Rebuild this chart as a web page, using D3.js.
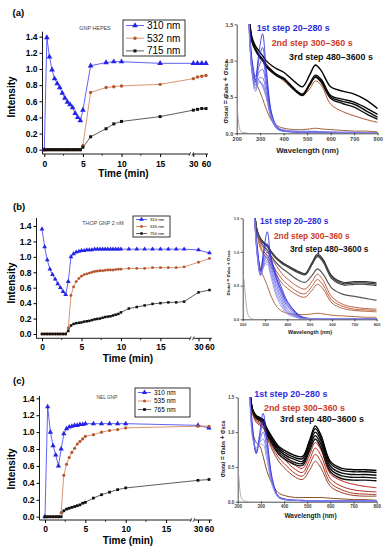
<!DOCTYPE html>
<html>
<head>
<meta charset="utf-8">
<script src="https://cdn.jsdelivr.net/npm/d3@7"></script>
<style>
  html, body { margin: 0; padding: 0; background: #fff; }
  svg { display: block; font-family: Arial, "Liberation Sans", sans-serif; }
</style>
</head>
<body>
<svg id="fig" width="389" height="550"></svg>
<script>
/* ── Kinetics data (left column) ─────────────────────────────────────────── */
const timeA = [0, 0.33, 0.67, 1, 1.33, 1.67, 2, 2.33, 2.67, 3, 3.33, 3.67, 4, 4.33, 4.67, 5, 6, 8, 9, 10, 15, 30, 40, 50, 60];
const a310 = [0, 1.39, 1.15, 0.99, 0.88, 0.82, 0.77, 0.70, 0.64, 0.59, 0.56, 0.52, 0.45, 0.40, 0.36, 0.49, 1.04, 1.08, 1.09, 1.09, 1.07, 1.07, 1.07, 1.07, 1.07];
const a532 = [0, 0, 0, 0, 0, 0, 0, 0, 0, 0, 0, 0, 0, 0, 0, 0.05, 0.71, 0.77, 0.78, 0.79, 0.81, 0.88, 0.90, 0.91, 0.92];
const a715 = [0, 0, 0, 0, 0, 0, 0, 0, 0, 0, 0, 0, 0, 0, 0, 0.03, 0.16, 0.26, 0.32, 0.35, 0.41, 0.49, 0.50, 0.51, 0.51];
const legendA = ["310 nm", "532 nm", "715 nm"];

const timeB = [0, 0.33, 0.67, 1, 1.33, 1.67, 2, 2.33, 2.67, 3, 3.33, 3.67, 4, 4.33, 4.67, 5, 5.33, 5.67, 6, 6.33,
  6.67, 7, 7.33, 7.67, 8, 8.33, 8.67, 9, 9.33, 9.67, 10, 11, 12, 13, 14, 15, 16, 17, 18, 30, 60];
const b310 = [1.36, 1.13, 0.96, 0.84, 0.77, 0.71, 0.65, 0.60, 0.55, 0.51, 0.68, 1.00, 1.04, 1.06, 1.07, 1.08, 1.08, 1.09, 1.09, 1.09,
  1.10, 1.10, 1.10, 1.10, 1.10, 1.10, 1.10, 1.10, 1.10, 1.10, 1.10, 1.10, 1.10, 1.10, 1.10, 1.10, 1.10, 1.10, 1.10, 1.09, 1.05];
const b535 = [0, 0, 0, 0, 0, 0, 0, 0, 0, 0, 0.08, 0.50, 0.61, 0.68, 0.72, 0.75, 0.77, 0.78, 0.79, 0.80,
  0.81, 0.815, 0.82, 0.82, 0.825, 0.83, 0.83, 0.83, 0.835, 0.84, 0.84, 0.85, 0.85, 0.85, 0.86, 0.86, 0.86, 0.86, 0.87, 0.93, 0.98];
const b750 = [0, 0, 0, 0, 0, 0, 0, 0, 0, 0, 0.04, 0.11, 0.13, 0.14, 0.145, 0.15, 0.16, 0.165, 0.17, 0.18,
  0.19, 0.195, 0.20, 0.21, 0.22, 0.225, 0.23, 0.24, 0.25, 0.26, 0.28, 0.33, 0.35, 0.37, 0.39, 0.40, 0.41, 0.41, 0.42, 0.54, 0.57];
const legendB = ["310 nm", "535 nm", "750 nm"];

const timeC = [0, 0.33, 0.67, 1, 1.33, 1.67, 2, 2.33, 2.67, 3, 3.33, 3.67, 4, 4.33, 4.67, 5, 6, 7, 8, 9, 10, 30, 60];
const c310 = [0, 1.30, 1.00, 0.84, 0.73, 0.60, 0.80, 0.98, 1.04, 1.06, 1.07, 1.08, 1.08, 1.09, 1.09, 1.10, 1.10, 1.10, 1.10, 1.10, 1.10, 1.08, 1.05];
const c535 = [0, 0, 0, 0, 0, 0, 0.05, 0.49, 0.62, 0.70, 0.76, 0.81, 0.86, 0.89, 0.92, 0.95, 0.97, 1.00, 1.02, 1.03, 1.05, 1.07, 1.07];
const c765 = [0, 0, 0, 0, 0, 0, 0, 0.07, 0.09, 0.10, 0.11, 0.12, 0.13, 0.14, 0.16, 0.17, 0.22, 0.26, 0.29, 0.32, 0.34, 0.43, 0.44];
const legendC = ["310 nm", "535 nm", "765 nm"];

const kinYTicks = [0, 0.2, 0.4, 0.6, 0.8, 1.0, 1.2, 1.4];
const kinXTicks = [0, 5, 10, 15, 30, 60];
const kinXMinor = [2.5, 7.5, 12.5];

/* ── Spectra data (right column) ─────────────────────────────────────────── */
const WL = [250, 265, 280, 295, 310, 325, 350, 375, 400, 450, 480, 510, 535, 560, 600, 650, 700, 750, 800];
const greyWL = [200, 205, 210, 215, 220, 230, 250];

const greyA = [0.46, 0.25, 0.10, 0.04, 0.02, 0.01, 0];
const specA_blue = [
  [1.70, 1.02, 0.78, 1.12, 1.37, 0.92, 0.26, 0.08, 0.04, 0.02, 0.02, 0.02, 0.02, 0.02, 0.01, 0.01, 0.01, 0.01, 0.01],
  [1.70, 0.98, 0.74, 1.02, 1.18, 0.84, 0.24, 0.07, 0.04, 0.02, 0.02, 0.02, 0.02, 0.02, 0.01, 0.01, 0.01, 0.01, 0.01],
  [1.70, 0.94, 0.70, 0.92, 1.02, 0.74, 0.22, 0.07, 0.03, 0.02, 0.02, 0.02, 0.02, 0.02, 0.01, 0.01, 0.01, 0.01, 0.01],
  [1.70, 0.90, 0.66, 0.84, 0.88, 0.66, 0.20, 0.06, 0.03, 0.02, 0.02, 0.02, 0.02, 0.01, 0.01, 0.01, 0.01, 0.01, 0.01],
  [1.70, 0.86, 0.62, 0.76, 0.76, 0.58, 0.18, 0.06, 0.03, 0.02, 0.02, 0.02, 0.02, 0.01, 0.01, 0.01, 0.01, 0.01, 0.01],
  [1.70, 0.84, 0.58, 0.70, 0.68, 0.52, 0.17, 0.05, 0.03, 0.02, 0.01, 0.01, 0.01, 0.01, 0.01, 0.01, 0.01, 0.01, 0.01],
  [1.70, 0.86, 0.70, 0.72, 0.64, 0.50, 0.19, 0.07, 0.04, 0.03, 0.02, 0.02, 0.02, 0.02, 0.02, 0.01, 0.01, 0.01, 0.01],
  [1.70, 0.92, 0.78, 0.74, 0.66, 0.52, 0.21, 0.08, 0.05, 0.03, 0.03, 0.03, 0.03, 0.02, 0.02, 0.02, 0.02, 0.01, 0.01],
];
const specA_brown = [
  [1.70, 1.32, 1.15, 1.08, 1.03, 0.96, 0.87, 0.79, 0.72, 0.58, 0.52, 0.61, 0.72, 0.66, 0.40, 0.30, 0.24, 0.19, 0.15],
  [1.70, 0.95, 0.72, 0.60, 0.48, 0.34, 0.17, 0.10, 0.07, 0.05, 0.05, 0.06, 0.07, 0.06, 0.05, 0.04, 0.03, 0.03, 0.02],
];
const specA_black = [
  [1.70, 1.32, 1.20, 1.13, 1.07, 1.00, 0.93, 0.88, 0.84, 0.70, 0.64, 0.80, 0.94, 0.86, 0.64, 0.58, 0.54, 0.46, 0.34],
  [1.70, 1.28, 1.16, 1.08, 1.02, 0.94, 0.86, 0.80, 0.76, 0.60, 0.54, 0.68, 0.80, 0.74, 0.52, 0.47, 0.43, 0.35, 0.26],
  [1.70, 1.27, 1.15, 1.07, 1.01, 0.93, 0.85, 0.79, 0.75, 0.59, 0.53, 0.67, 0.78, 0.72, 0.50, 0.44, 0.40, 0.31, 0.22],
  [1.70, 1.26, 1.14, 1.06, 1.00, 0.92, 0.84, 0.78, 0.74, 0.58, 0.52, 0.66, 0.77, 0.70, 0.48, 0.41, 0.36, 0.27, 0.19],
];

const greyB = [0.66, 0.60, 0.42, 0.24, 0.12, 0.03, 0];
const specB_blue = [
  [1.70, 1.10, 0.72, 1.05, 1.30, 0.95, 0.62, 0.42, 0.25, 0.06, 0.02, 0.01, 0.01, 0.01, 0.01, 0.01, 0.01, 0.01, 0.01],
  [1.70, 1.06, 0.72, 0.98, 1.12, 0.92, 0.68, 0.46, 0.27, 0.07, 0.02, 0.01, 0.01, 0.01, 0.01, 0.01, 0.01, 0.01, 0.01],
  [1.70, 1.02, 0.70, 0.92, 1.00, 0.88, 0.62, 0.40, 0.22, 0.05, 0.02, 0.01, 0.01, 0.01, 0.01, 0.01, 0.01, 0.01, 0.01],
  [1.70, 1.00, 0.68, 0.88, 0.95, 0.85, 0.58, 0.36, 0.19, 0.04, 0.01, 0.01, 0.01, 0.01, 0.01, 0.01, 0.01, 0.01, 0.01],
  [1.70, 0.98, 0.66, 0.85, 0.92, 0.80, 0.52, 0.31, 0.15, 0.03, 0.01, 0.01, 0.01, 0.01, 0.01, 0.01, 0.01, 0.01, 0.01],
  [1.70, 0.96, 0.66, 0.82, 0.88, 0.75, 0.46, 0.26, 0.12, 0.03, 0.01, 0.01, 0.01, 0.01, 0.01, 0.01, 0.01, 0.01, 0.01],
  [1.70, 0.95, 0.65, 0.80, 0.85, 0.70, 0.40, 0.22, 0.10, 0.02, 0.01, 0.01, 0.01, 0.01, 0.01, 0.01, 0.01, 0.01, 0.01],
  [1.70, 0.95, 0.65, 0.78, 0.82, 0.65, 0.35, 0.18, 0.08, 0.02, 0.01, 0.01, 0.01, 0.01, 0.01, 0.01, 0.01, 0.01, 0.01],
];
const specB_brown = [
  [1.70, 1.30, 1.12, 1.05, 1.00, 0.92, 0.80, 0.68, 0.60, 0.48, 0.45, 0.56, 0.67, 0.58, 0.33, 0.22, 0.18, 0.16, 0.15],
  [1.70, 1.28, 1.08, 1.00, 0.95, 0.86, 0.72, 0.60, 0.52, 0.40, 0.38, 0.49, 0.59, 0.51, 0.28, 0.19, 0.15, 0.14, 0.13],
  [1.70, 1.26, 1.05, 0.96, 0.90, 0.80, 0.66, 0.54, 0.46, 0.35, 0.33, 0.43, 0.52, 0.45, 0.24, 0.16, 0.13, 0.12, 0.11],
  [1.70, 1.00, 0.75, 0.62, 0.50, 0.36, 0.20, 0.12, 0.09, 0.07, 0.07, 0.08, 0.09, 0.08, 0.06, 0.05, 0.04, 0.03, 0.03],
];
const specB_black = [
  [1.70, 1.32, 1.20, 1.14, 1.10, 1.02, 0.92, 0.85, 0.80, 0.71, 0.68, 0.84, 0.97, 0.89, 0.64, 0.55, 0.56, 0.56, 0.54],
  [1.70, 1.31, 1.19, 1.13, 1.09, 1.01, 0.91, 0.84, 0.79, 0.70, 0.67, 0.82, 0.95, 0.87, 0.62, 0.53, 0.54, 0.54, 0.52],
  [1.70, 1.30, 1.18, 1.12, 1.08, 1.00, 0.90, 0.83, 0.78, 0.69, 0.66, 0.81, 0.93, 0.85, 0.60, 0.51, 0.52, 0.52, 0.50],
  [1.70, 1.30, 1.16, 1.08, 1.03, 0.95, 0.84, 0.76, 0.70, 0.58, 0.55, 0.65, 0.75, 0.67, 0.46, 0.37, 0.34, 0.31, 0.28],
];

const greyC = [0.50, 0.35, 0.15, 0.06, 0.03, 0.01, 0];
const specC_blue = [
  [1.70, 1.05, 0.70, 0.98, 1.27, 0.95, 0.32, 0.08, 0.04, 0.02, 0.02, 0.01, 0.01, 0.01, 0.01, 0.01, 0.01, 0.01, 0.01],
  [1.70, 1.00, 0.69, 0.92, 1.15, 0.88, 0.30, 0.08, 0.04, 0.02, 0.02, 0.01, 0.01, 0.01, 0.01, 0.01, 0.01, 0.01, 0.01],
  [1.70, 0.95, 0.72, 0.88, 1.00, 0.78, 0.27, 0.07, 0.03, 0.02, 0.01, 0.01, 0.01, 0.01, 0.01, 0.01, 0.01, 0.01, 0.01],
  [1.70, 0.92, 0.75, 0.85, 0.90, 0.70, 0.25, 0.07, 0.03, 0.02, 0.01, 0.01, 0.01, 0.01, 0.01, 0.01, 0.01, 0.01, 0.01],
  [1.70, 0.90, 0.78, 0.82, 0.82, 0.62, 0.22, 0.06, 0.03, 0.02, 0.01, 0.01, 0.01, 0.01, 0.01, 0.01, 0.01, 0.01, 0.01],
];
const specC_red = [
  [1.70, 1.30, 1.20, 1.16, 1.12, 1.02, 0.88, 0.76, 0.68, 0.52, 0.48, 0.67, 0.85, 0.74, 0.40, 0.30, 0.25, 0.22, 0.20],
  [1.70, 1.28, 1.18, 1.14, 1.10, 0.99, 0.83, 0.70, 0.61, 0.46, 0.42, 0.60, 0.77, 0.66, 0.33, 0.22, 0.17, 0.15, 0.14],
  [1.70, 1.27, 1.16, 1.12, 1.08, 0.96, 0.78, 0.64, 0.55, 0.40, 0.37, 0.53, 0.68, 0.57, 0.27, 0.17, 0.12, 0.11, 0.10],
  [1.70, 1.26, 1.14, 1.10, 1.06, 0.93, 0.74, 0.59, 0.49, 0.35, 0.32, 0.45, 0.58, 0.48, 0.22, 0.13, 0.09, 0.08, 0.08],
  [1.70, 1.00, 0.85, 0.80, 0.65, 0.45, 0.25, 0.13, 0.09, 0.06, 0.06, 0.06, 0.06, 0.06, 0.05, 0.04, 0.03, 0.03, 0.02],
];
const specC_black = [
  [1.70, 1.32, 1.24, 1.21, 1.18, 1.06, 0.92, 0.80, 0.74, 0.66, 0.65, 0.88, 1.09, 0.95, 0.58, 0.48, 0.46, 0.46, 0.45],
  [1.70, 1.31, 1.23, 1.20, 1.16, 1.04, 0.89, 0.78, 0.71, 0.63, 0.62, 0.85, 1.05, 0.91, 0.55, 0.45, 0.43, 0.43, 0.42],
  [1.70, 1.31, 1.22, 1.19, 1.15, 1.02, 0.87, 0.75, 0.68, 0.60, 0.58, 0.81, 1.00, 0.87, 0.51, 0.41, 0.39, 0.39, 0.38],
  [1.70, 1.30, 1.21, 1.18, 1.14, 1.00, 0.85, 0.72, 0.65, 0.56, 0.55, 0.77, 0.95, 0.82, 0.47, 0.37, 0.35, 0.35, 0.34],
  [1.70, 1.30, 1.20, 1.17, 1.13, 0.98, 0.82, 0.69, 0.62, 0.53, 0.52, 0.73, 0.90, 0.77, 0.43, 0.33, 0.31, 0.31, 0.30],
];

const stepLabels = ["1st step 20\u2013280 s", "2nd step 300\u2013360 s", "3rd step 480\u20133600 s"];
const specXTicks = [200, 300, 400, 500, 600, 700, 800];
const specYTicks = [0, 0.5, 1.0, 1.5];

/* ── Setup ───────────────────────────────────────────────────────────────── */
const svg = d3.select("#fig");
const BLUE = "#2323e6", BROWN = "#b4552c", BLACK = "#111";

/* ── Kinetics panel ──────────────────────────────────────────────────────── */
function drawKinetics(p) {
  const g = svg.append("g");
  const x = d3.scaleLinear().domain(p.xDom).range(p.xRange);
  const y = d3.scaleLinear().domain([0, 1.4]).range(p.yRange);

  // L-shaped frame
  g.append("line").attr("x1", p.axisX).attr("x2", p.axisX).attr("y1", p.yTop).attr("y2", p.axisY)
    .attr("stroke", "#000").attr("stroke-width", 0.9);
  g.append("line").attr("x1", p.axisX).attr("x2", p.xEnd).attr("y1", p.axisY).attr("y2", p.axisY)
    .attr("stroke", "#000").attr("stroke-width", 0.9);

  const yAx = g.append("g").attr("transform", `translate(${p.axisX},0)`)
    .call(d3.axisLeft(y).tickValues(kinYTicks).tickFormat(d3.format(".1f")).tickSize(3).tickPadding(p.yPad));
  yAx.select(".domain").remove();
  yAx.selectAll("text").attr("font-size", p.tickFont).attr("font-weight", "bold").attr("font-family", null);

  const xAx = g.append("g").attr("transform", `translate(0,${p.axisY})`)
    .call(d3.axisBottom(x).tickValues(kinXTicks).tickFormat(d3.format("d")).tickSize(3).tickPadding(p.xPad));
  xAx.select(".domain").remove();
  xAx.selectAll("text").attr("font-size", p.tickFont).attr("font-weight", "bold").attr("font-family", null);
  g.append("g").selectAll("line").data(kinXMinor).join("line")
    .attr("x1", d => x(d)).attr("x2", d => x(d)).attr("y1", p.axisY).attr("y2", p.axisY + 1.8)
    .attr("stroke", "#000").attr("stroke-width", 0.8);

  // axis break mark
  const bx = p.breakX, by = p.axisY;
  g.append("rect").attr("x", bx - 1.2).attr("y", by - 1).attr("width", 2.4).attr("height", 2).attr("fill", "#fff");
  g.append("path").attr("d", `M${bx - 2.6},${by + 2} L${bx - 0.8},${by - 2} M${bx + 0.4},${by + 2} L${bx + 2.2},${by - 2}`)
    .attr("stroke", "#000").attr("stroke-width", 0.6).attr("fill", "none");

  // series
  p.series.forEach(s => {
    const pts = p.time.map((t, i) => [t, s.values[i]]);
    g.append("path")
      .attr("d", d3.line().x(d => x(d[0])).y(d => y(d[1]))(pts))
      .attr("fill", "none").attr("stroke", s.line).attr("stroke-width", 0.8);
    g.append("g").selectAll("path").data(pts).join("path")
      .attr("transform", d => `translate(${x(d[0])},${y(d[1])})`)
      .attr("d", d3.symbol(s.symbol, s.size * p.mScale)())
      .attr("fill", s.color);
  });

  // titles
  g.append("text").attr("transform", `translate(${p.yLabel[0]},${p.yLabel[1]}) rotate(-90)`)
    .attr("text-anchor", "middle").attr("font-size", 10).attr("font-weight", "bold").text("Intensity");
  g.append("text").attr("x", p.xLabel[0]).attr("y", p.xLabel[1])
    .attr("text-anchor", "middle").attr("font-size", 10).attr("font-weight", "bold").text("Time (min)");
  g.append("text").attr("x", p.tag[0]).attr("y", p.tag[1])
    .attr("font-size", 9.5).attr("font-weight", "bold").text(p.tagText);
  g.append("text").attr("x", p.note[0]).attr("y", p.note[1]).attr("text-anchor", "middle")
    .attr("font-size", p.noteFont).attr("fill", "#444").text(p.noteText);

  // legend
  const L = p.legend;
  g.append("rect").attr("x", L.x).attr("y", L.y).attr("width", L.w).attr("height", L.h)
    .attr("fill", "#fff").attr("stroke", "#000").attr("stroke-width", 0.8);
  p.series.forEach((s, i) => {
    const ly = L.y + L.row0 + i * L.step;
    g.append("line").attr("x1", L.x + 3).attr("x2", L.x + 3 + L.line).attr("y1", ly).attr("y2", ly)
      .attr("stroke", s.line).attr("stroke-width", 0.8);
    g.append("path").attr("transform", `translate(${L.x + 3 + L.line / 2},${ly})`)
      .attr("d", d3.symbol(s.symbol, s.size * p.mScale)()).attr("fill", s.color);
    g.append("text").attr("x", L.x + 6 + L.line).attr("y", ly).attr("dy", "0.35em")
      .attr("font-size", L.font).text(p.labels[i]);
  });
}

function seriesOf(v310, v2, v3) {
  return [
    { values: v310, color: BLUE, line: "#3a3af0", symbol: d3.symbolTriangle, size: 14 },
    { values: v2, color: BROWN, line: "#d07a52", symbol: d3.symbolCircle, size: 9 },
    { values: v3, color: BLACK, line: "#333", symbol: d3.symbolSquare, size: 9 },
  ];
}

drawKinetics({
  time: timeA, series: seriesOf(a310, a532, a715), labels: legendA, mScale: 1,
  xDom: [0, 19, 30, 60], xRange: [44.3, 191, 193.3, 206], yRange: [149.7, 36.7],
  axisX: 42.5, axisY: 154, yTop: 31.7, xEnd: 208, breakX: 191.5,
  yPad: 2, xPad: 4, tickFont: 8.5,
  yLabel: [15, 97], xLabel: [123.5, 177], tag: [12.5, 15.5], tagText: "(a)",
  note: [95, 30], noteFont: 5.4, noteText: "GNP HEPES",
  legend: { x: 123, y: 20, w: 62, h: 36, row0: 5.5, step: 12.7, line: 18, font: 10 },
});
drawKinetics({
  time: timeB, series: seriesOf(b310, b535, b750), labels: legendB, mScale: 0.7,
  xDom: [0, 19, 30, 60], xRange: [42, 192, 198.5, 209.5], yRange: [334, 226],
  axisX: 36.5, axisY: 338.3, yTop: 218, xEnd: 212, breakX: 192,
  yPad: 2, xPad: 2.5, tickFont: 8.5,
  yLabel: [15, 283], xLabel: [128, 362], tag: [13, 210], tagText: "(b)",
  note: [103, 225], noteFont: 5.4, noteText: "THOP GNP 2 nM",
  legend: { x: 133, y: 216, w: 37, h: 21, row0: 3.5, step: 7, line: 11, font: 4.2 },
});
drawKinetics({
  time: timeC, series: seriesOf(c310, c535, c765), labels: legendC, mScale: 0.85,
  xDom: [0, 18.3, 30, 60], xRange: [45, 192.7, 198, 209], yRange: [516.7, 398.3],
  axisX: 39.5, axisY: 520, yTop: 396, xEnd: 212, breakX: 192.7,
  yPad: 2, xPad: 2.5, tickFont: 8.5,
  yLabel: [15, 469], xLabel: [128, 543.5], tag: [13, 383.5], tagText: "(c)",
  note: [107, 399], noteFont: 4.8, noteText: "NEL GNP",
  legend: { x: 135, y: 388, w: 55, h: 29, row0: 4.5, step: 8.5, line: 13, font: 6.5 },
});

/* ── Spectra panel ───────────────────────────────────────────────────────── */
function drawSpectra(p) {
  const g = svg.append("g");
  const x = d3.scaleLinear().domain([200, 800]).range(p.xRange);
  const y = d3.scaleLinear().domain([0, 1.5]).range(p.yRange);

  g.append("clipPath").attr("id", p.id).append("rect")
    .attr("x", p.xRange[0]).attr("y", p.yRange[1])
    .attr("width", p.xRange[1] - p.xRange[0]).attr("height", p.yRange[0] - p.yRange[1]);

  const xAx = g.append("g").attr("transform", `translate(0,${p.yRange[0]})`)
    .call(d3.axisBottom(x).tickValues(specXTicks).tickSize(2).tickPadding(1.5).tickSizeOuter(0));
  const yAx = g.append("g").attr("transform", `translate(${p.xRange[0]},0)`)
    .call(d3.axisLeft(y).tickValues(specYTicks).tickFormat(d3.format(".1f")).tickSize(2).tickPadding(1.5).tickSizeOuter(0));
  [xAx, yAx].forEach(a => {
    a.selectAll("text").attr("font-size", p.tickFont).attr("font-weight", "bold").attr("fill", "#444").attr("font-family", null);
    a.selectAll("line, path").attr("stroke-width", 0.7);
  });

  const plot = g.append("g").attr("clip-path", `url(#${p.id})`);
  const line = d3.line().x((d, i) => x(WL[i])).y(d => y(d)).curve(d3.curveCatmullRom.alpha(0.5));
  const gLine = d3.line().x((d, i) => x(greyWL[i])).y(d => y(d)).curve(d3.curveMonotoneX);

  plot.append("path").attr("d", gLine(p.grey)).attr("fill", "none").attr("stroke", "#999").attr("stroke-width", 0.8);

  const groups = [
    { curves: p.red, c0: p.redCols[0], c1: p.redCols[1], w: 1.0 },
    { curves: p.black, c0: p.blackCols[0], c1: p.blackCols[1], w: p.blackW },
    { curves: p.blue, c0: "#1f1fdc", c1: "#8c8cec", w: 0.8 },
  ];
  groups.forEach(gr => {
    const col = d3.interpolateRgb(gr.c0, gr.c1);
    plot.append("g").selectAll("path").data(gr.curves).join("path")
      .attr("d", line).attr("fill", "none")
      .attr("stroke", (d, i) => col(gr.curves.length > 1 ? i / (gr.curves.length - 1) : 0))
      .attr("stroke-width", gr.w);
  });

  g.append("text").attr("x", p.xLabel[0]).attr("y", p.xLabel[1]).attr("text-anchor", "middle")
    .attr("font-size", p.xLabelFont).attr("font-weight", "bold").attr("fill", "#222").text("Wavelength (nm)");

  const yl = g.append("text").attr("transform", `translate(${p.yLabel[0]},${p.yLabel[1]}) rotate(-90)`)
    .attr("text-anchor", "middle").attr("font-size", p.yLabelFont).attr("font-weight", "bold").attr("fill", "#222");
  [["\u03c3", 0], ["total", 1], [" = \u03c3", 0], ["abs", 1], [" + \u03c3", 0], ["sca", 1]].forEach(([t, sub]) => {
    yl.append("tspan").attr("font-size", sub ? p.yLabelFont * 0.85 : p.yLabelFont).text(t);
  });

  const stepCols = ["#2b2be0", "#cf3a26", "#111"];
  stepLabels.forEach((t, i) => {
    g.append("text").attr("x", p.steps[i][0]).attr("y", p.steps[i][1])
      .attr("font-size", p.stepFont).attr("font-weight", "bold").attr("fill", stepCols[i]).text(t);
  });
}

drawSpectra({
  id: "clipA", xRange: [236.7, 377.7], yRange: [133.3, 24.3], tickFont: 5.5,
  grey: greyA, blue: specA_blue, red: specA_brown, black: specA_black,
  redCols: ["#b0502a", "#a0603a"], blackCols: ["#000", "#111"], blackW: 1.4,
  xLabel: [307.5, 153], xLabelFont: 7.8, yLabel: [228, 92], yLabelFont: 7,
  steps: [[256.7, 31], [271.7, 46], [289, 59.5]], stepFont: 8.9,
});
drawSpectra({
  id: "clipB", xRange: [242.7, 376.7], yRange: [319.3, 218.3], tickFont: 4,
  grey: greyB, blue: specB_blue, red: specB_brown, black: specB_black,
  redCols: ["#c0603e", "#b06a46"], blackCols: ["#333", "#555"], blackW: 1.2,
  xLabel: [310, 334], xLabelFont: 5.5, yLabel: [229.5, 273], yLabelFont: 5,
  steps: [[260, 224], [274, 239], [290, 251.5]], stepFont: 8.3,
});
drawSpectra({
  id: "clipC", xRange: [237.7, 376.7], yRange: [501.7, 397.3], tickFont: 4.5,
  grey: greyC, blue: specC_blue, red: specC_red, black: specC_black,
  redCols: ["#c02020", "#8a4a20"], blackCols: ["#000", "#111"], blackW: 1.4,
  xLabel: [310.5, 518], xLabelFont: 6.5, yLabel: [224.5, 449], yLabelFont: 6.3,
  steps: [[254.3, 396.5], [264, 410.5], [280, 422]], stepFont: 8.9,
});
</script>
</body>
</html>
